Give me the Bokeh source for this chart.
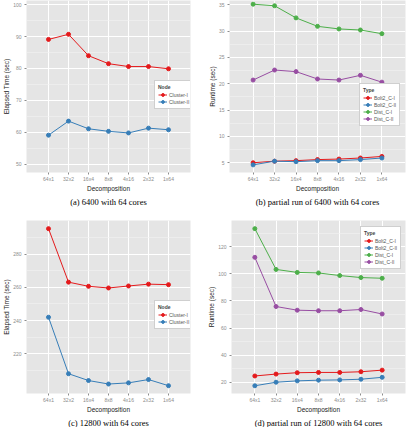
from bokeh.plotting import figure
from bokeh.models import FactorRange, Range1d, FixedTicker, Legend, LegendItem, Title
from bokeh.layouts import column, row
from bokeh.embed import file_html
from bokeh.resources import INLINE

decomp = ["64x1", "32x2", "16x4", "8x8", "4x16", "2x32", "1x64"]

# (a) 6400 with 64 cores
a_cluster_1 = [89.1, 90.7, 84.0, 81.5, 80.6, 80.6, 79.9]
a_cluster_2 = [59.1, 63.5, 61.1, 60.3, 59.8, 61.3, 60.8]
a_yticks = [50, 60, 70, 80, 90, 100]

# (b) partial run of 6400 with 64 cores
b_bolt_c1 = [5.0, 5.3, 5.4, 5.6, 5.7, 5.9, 6.2]
b_bolt_c2 = [4.6, 5.3, 5.2, 5.4, 5.4, 5.6, 5.9]
b_dist_c1 = [35.1, 34.8, 32.5, 30.9, 30.4, 30.2, 29.5]
b_dist_c2 = [20.7, 22.6, 22.3, 20.9, 20.7, 21.6, 20.3]
b_yticks = [5, 10, 15, 20, 25, 30, 35]

# (c) 12800 with 64 cores
c_cluster_1 = [295.3, 263.1, 260.6, 259.6, 260.8, 261.9, 261.6]
c_cluster_2 = [242.0, 208.0, 203.9, 201.8, 202.5, 204.5, 200.8]
c_yticks = [220, 240, 260, 280]

# (d) partial run of 12800 with 64 cores
d_bolt_c1 = [24.8, 26.2, 27.2, 27.4, 27.4, 27.9, 29.1]
d_bolt_c2 = [17.6, 20.2, 21.2, 21.7, 21.9, 22.4, 23.8]
d_dist_c1 = [133.2, 103.2, 101.0, 100.6, 98.7, 97.2, 96.7]
d_dist_c2 = [112.1, 75.9, 73.2, 72.8, 72.8, 73.7, 70.4]
d_yticks = [20, 40, 60, 80, 100, 120]

node_labels = ["Cluster-I", "Cluster-II"]
type_labels = ["Bolt2_C-I", "Bolt2_C-II", "Dist_C-I", "Dist_C-II"]

RED, BLUE, GREEN, PURPLE = "#E41A1C", "#377EB8", "#4DAF4A", "#984EA3"
GREY = "#8C8C8C"
SANS = "Liberation Sans"


def make_panel(width, height, yrange, yticks, ylabel, caption, series, labels, colors,
               legend_title, legend_loc, borders):
    left, right, top, bottom = borders
    p = figure(width=width, height=height, x_range=FactorRange(*decomp),
               y_range=Range1d(*yrange), output_backend="svg", toolbar_location=None,
               min_border_left=left, min_border_right=right, min_border_top=top,
               min_border_bottom=bottom)
    p.x_range.range_padding = 0.6
    p.x_range.range_padding_units = "absolute"
    p.background_fill_color = "#E5E5E5"
    p.border_fill_color = "white"
    p.outline_line_color = None
    minors = [(yticks[i] + yticks[i + 1]) / 2 for i in range(len(yticks) - 1)]
    step = yticks[1] - yticks[0]
    minors = [yticks[0] - step / 2] + minors + [yticks[-1] + step / 2]
    p.yaxis.ticker = FixedTicker(ticks=yticks, minor_ticks=minors)
    p.xgrid.grid_line_color = "white"
    p.xgrid.grid_line_width = 1
    p.ygrid.grid_line_color = "white"
    p.ygrid.grid_line_width = 1
    p.ygrid.minor_grid_line_color = "#F2F2F2"
    p.ygrid.minor_grid_line_width = 0.6
    for ax in (p.xaxis, p.yaxis):
        ax.axis_line_color = None
        ax.major_tick_line_color = GREY
        ax.major_tick_in = 0
        ax.major_tick_out = 2
        ax.minor_tick_line_color = None
        ax.major_label_text_color = GREY
        ax.major_label_text_font = SANS
        ax.major_label_text_font_size = "5px"
        ax.major_label_standoff = 1
        ax.axis_label_text_font = SANS
        ax.axis_label_text_font_size = "6.5px"
        ax.axis_label_text_font_style = "normal"
        ax.axis_label_text_color = "#222222"
        ax.axis_label_standoff = 0
    p.xaxis.axis_label = "Decomposition"
    p.yaxis.axis_label = ylabel

    items = []
    for vals, lab, col in zip(series, labels, colors):
        r1 = p.line(decomp, vals, line_color=col, line_width=1)
        r2 = p.scatter(decomp, vals, size=4, fill_color=col, line_color=col)
        items.append(LegendItem(label=lab, renderers=[r1, r2]))
    leg = Legend(items=items, location=legend_loc, title=legend_title,
                 title_text_font_size="5px", title_text_font_style="bold",
                 title_text_font=SANS, title_standoff=1,
                 label_text_font=SANS, label_text_font_size="5px",
                 label_text_color="#555555", label_height=6, label_standoff=2,
                 glyph_height=7, glyph_width=9, spacing=0, padding=3, margin=0,
                 border_line_color="#A0A0A0", border_line_width=1,
                 background_fill_color="white", background_fill_alpha=1)
    p.add_layout(leg, "center")

    cap = Title(text=caption, align="center", text_font="Liberation Serif",
                text_font_size="8.5px", text_font_style="normal", text_color="black",
                standoff=0)
    p.add_layout(cap, "below")
    return p


pa = make_panel(205, 210, (47.4, 101.3), a_yticks, "Elapsed Time (sec)",
                "(a) 6400 with 64 cores", [a_cluster_1, a_cluster_2], node_labels,
                [RED, BLUE], "Node", (128, 63), (20, 15, 0, 37))
pb = make_panel(205, 210, (3.15, 35.8), b_yticks, "Runtime (sec)",
                "(b) partial run of 6400 with 64 cores",
                [b_bolt_c1, b_bolt_c2, b_dist_c1, b_dist_c2], type_labels,
                [RED, BLUE, GREEN, PURPLE], "Type", (130, 46), (23, 5, 0, 38))
pc = make_panel(205, 217, (196.1, 300.2), c_yticks, "Elapsed Time (sec)",
                "(c) 12800 with 64 cores", [c_cluster_1, c_cluster_2], node_labels,
                [RED, BLUE], "Node", (128, 64), (20, 15, 10, 30))
pd = make_panel(205, 217, (11.9, 139.2), d_yticks, "Runtime (sec)",
                "(d) partial run of 12800 with 64 cores",
                [d_bolt_c1, d_bolt_c2, d_dist_c1, d_dist_c2], type_labels,
                [RED, BLUE, GREEN, PURPLE], "Type", (129, 124), (23, 5, 10, 30))

layout = column(row(pa, pb), row(pc, pd))
open("out.html", "w").write(file_html(layout, INLINE))
